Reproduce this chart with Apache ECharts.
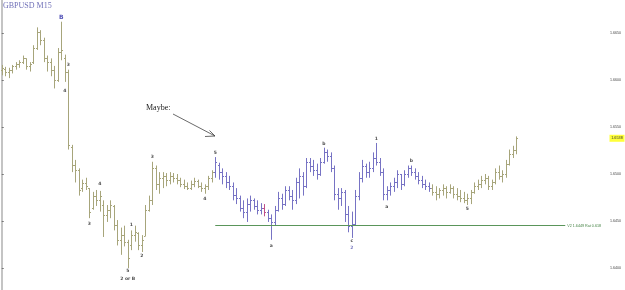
<!DOCTYPE html>
<html>
<head>
<meta charset="utf-8">
<script src="https://cdn.jsdelivr.net/npm/echarts@6/dist/echarts.min.js"></script>
<style>
html,body{margin:0;padding:0;background:#fff;}
#c{width:625px;height:290px;}
</style>
</head>
<body>
<div id="c"></div>
<script>
// ---- DATA (GBPUSD M15 OHLC bars) ----
const opens = [1.6611,1.6612,1.6609,1.6611,1.6615,1.6617,1.6619,1.6623,1.6615,1.6619,1.6634,1.6651,1.6643,1.6623,1.6619,1.6611,1.6600,1.6630,1.6623,1.6609,
1.6529,1.6510,1.6504,1.6485,1.6490,1.6485,1.6464,1.6477,1.6472,1.6467,1.6456,1.6462,1.6466,1.6446,1.6430,1.6435,1.6428,1.6424,1.6435,1.6437,
1.6424,1.6434,1.6462,1.6472,1.6506,1.6489,1.6496,1.6498,1.6494,1.6498,1.6496,1.6494,1.6489,1.6487,1.6485,1.6489,1.6493,1.6487,1.6485,1.6487,
1.6496,1.6502,1.6510,1.6502,1.6498,1.6491,1.6487,1.6478,1.6474,1.6464,1.6460,1.6468,1.6472,1.6466,1.6462,1.6464,1.6460,1.6453,1.6449,1.6462,
1.6474,1.6468,1.6483,1.6477,1.6472,1.6491,1.6498,1.6487,1.6513,1.6509,1.6504,1.6500,1.6513,1.6523,1.6519,1.6506,1.6479,1.6474,1.6481,1.6457,
1.6445,1.6447,1.6477,1.6496,1.6509,1.6502,1.6506,1.6517,1.6513,1.6502,1.6479,1.6483,1.6487,1.6491,1.6500,1.6489,1.6500,1.6506,1.6502,1.6498,
1.6494,1.6489,1.6487,1.6485,1.6481,1.6479,1.6483,1.6485,1.6481,1.6485,1.6479,1.6477,1.6474,1.6472,1.6474,1.6481,1.6487,1.6489,1.6494,1.6496,
1.6487,1.6491,1.6502,1.6498,1.6500,1.6511,1.6521,1.6526];
const highs = [1.6616,1.6614,1.6613,1.6616,1.6619,1.6621,1.6626,1.6623,1.6619,1.6637,1.6656,1.6653,1.6645,1.6626,1.6623,1.6615,1.6634,1.6662,1.6627,1.6611,
1.6531,1.6515,1.6506,1.6494,1.6496,1.6485,1.6481,1.6483,1.6482,1.6472,1.6467,1.6472,1.6467,1.6451,1.6443,1.6445,1.6430,1.6440,1.6445,1.6438,
1.6435,1.6467,1.6477,1.6513,1.6509,1.6502,1.6502,1.6501,1.6502,1.6501,1.6500,1.6496,1.6494,1.6491,1.6493,1.6496,1.6494,1.6491,1.6489,1.6498,
1.6504,1.6518,1.6512,1.6506,1.6502,1.6498,1.6491,1.6485,1.6477,1.6472,1.6474,1.6477,1.6474,1.6472,1.6469,1.6468,1.6462,1.6457,1.6466,1.6481,
1.6479,1.6487,1.6487,1.6483,1.6496,1.6506,1.6502,1.6517,1.6517,1.6515,1.6511,1.6517,1.6528,1.6526,1.6523,1.6509,1.6485,1.6485,1.6483,1.6466,
1.6460,1.6483,1.6502,1.6515,1.6511,1.6513,1.6523,1.6533,1.6517,1.6506,1.6487,1.6491,1.6496,1.6504,1.6500,1.6504,1.6509,1.6509,1.6506,1.6502,
1.6498,1.6494,1.6491,1.6489,1.6487,1.6485,1.6489,1.6487,1.6489,1.6487,1.6485,1.6483,1.6481,1.6479,1.6483,1.6491,1.6494,1.6498,1.6500,1.6498,
1.6494,1.6506,1.6509,1.6504,1.6515,1.6526,1.6530,1.6540];
const lows = [1.6605,1.6604,1.6602,1.6607,1.6611,1.6613,1.6617,1.6611,1.6609,1.6617,1.6632,1.6637,1.6619,1.6609,1.6604,1.6591,1.6598,1.6621,1.6598,1.6526,
1.6502,1.6491,1.6477,1.6481,1.6483,1.6453,1.6462,1.6466,1.6460,1.6433,1.6449,1.6453,1.6440,1.6424,1.6414,1.6423,1.6400,1.6419,1.6428,1.6419,
1.6417,1.6434,1.6460,1.6467,1.6483,1.6479,1.6485,1.6487,1.6489,1.6491,1.6489,1.6486,1.6484,1.6483,1.6483,1.6486,1.6485,1.6481,1.6479,1.6483,
1.6491,1.6496,1.6494,1.6489,1.6485,1.6483,1.6472,1.6468,1.6460,1.6453,1.6449,1.6460,1.6462,1.6457,1.6457,1.6455,1.6449,1.6430,1.6445,1.6460,
1.6462,1.6466,1.6472,1.6462,1.6468,1.6474,1.6477,1.6485,1.6502,1.6498,1.6494,1.6498,1.6511,1.6513,1.6502,1.6472,1.6462,1.6466,1.6449,1.6438,
1.6432,1.6445,1.6472,1.6491,1.6496,1.6496,1.6502,1.6509,1.6498,1.6472,1.6472,1.6477,1.6481,1.6485,1.6483,1.6487,1.6496,1.6498,1.6494,1.6489,
1.6485,1.6483,1.6481,1.6477,1.6472,1.6474,1.6477,1.6474,1.6479,1.6474,1.6472,1.6470,1.6469,1.6467,1.6468,1.6479,1.6483,1.6485,1.6489,1.6483,
1.6483,1.6489,1.6494,1.6491,1.6496,1.6509,1.6517,1.6521];
const closes = [1.6613,1.6609,1.6611,1.6615,1.6617,1.6619,1.6623,1.6615,1.6617,1.6634,1.6651,1.6643,1.6623,1.6619,1.6611,1.6600,1.6630,1.6632,1.6609,1.6531,
1.6510,1.6504,1.6483,1.6490,1.6487,1.6460,1.6477,1.6472,1.6477,1.6456,1.6462,1.6467,1.6446,1.6430,1.6435,1.6428,1.6411,1.6435,1.6438,1.6424,
1.6430,1.6462,1.6472,1.6506,1.6489,1.6496,1.6498,1.6494,1.6498,1.6496,1.6494,1.6489,1.6487,1.6485,1.6489,1.6493,1.6487,1.6485,1.6487,1.6496,
1.6502,1.6513,1.6502,1.6498,1.6491,1.6487,1.6478,1.6474,1.6464,1.6460,1.6468,1.6472,1.6466,1.6462,1.6464,1.6460,1.6453,1.6449,1.6462,1.6474,
1.6468,1.6483,1.6477,1.6472,1.6491,1.6498,1.6487,1.6513,1.6509,1.6504,1.6500,1.6513,1.6523,1.6519,1.6506,1.6479,1.6474,1.6481,1.6457,1.6445,
1.6447,1.6477,1.6496,1.6509,1.6502,1.6506,1.6517,1.6513,1.6502,1.6479,1.6483,1.6487,1.6491,1.6500,1.6489,1.6500,1.6506,1.6502,1.6498,1.6494,
1.6489,1.6487,1.6485,1.6481,1.6479,1.6483,1.6485,1.6481,1.6485,1.6479,1.6477,1.6474,1.6472,1.6474,1.6481,1.6487,1.6489,1.6494,1.6496,1.6487,
1.6491,1.6502,1.6498,1.6500,1.6511,1.6521,1.6526,1.6538];

// bars drawn in the second colour (the "Maybe" correction) and one odd bar
const blueFrom = 61, blueTo = 122, oddBar = 75;

// wave labels
const waveIdx   = [17, 19, 18, 25, 28, 36, 36, 37, 40, 43, 58, 61, 77, 92, 100, 100, 107, 110, 117, 133];
const wavePrice = [1.6667,1.6616,1.6589,1.6447,1.6490,1.6397,1.6389,1.6446,1.6413,1.6518,1.6474,1.6522,1.6424,1.6532,1.6429,1.6421,1.6537,1.6465,1.6514,1.6463];
const waveText  = ['B','3','4','3','4','5','2 or B','1','2','3','4','5','a','b','c','2','1','a','b','5'];

// target level
const levelPrice = 1.6445;
const levelText = 'V2 1.6449 Rat 0.618';
const levelFrom = 61, levelTo = 161;

// price axis: visible range and tick labels
const yMin = 1.63766, yMax = 1.66851;
const yTicks = [1.640, 1.645, 1.650, 1.655, 1.660, 1.665];
const slots = 174;

// ---- CHART ----
const chart = echarts.init(document.getElementById('c'), null, {renderer: 'canvas'});

const ohlc = opens.map((o, i) => [i, o, highs[i], lows[i], closes[i]]);

const OLIVE = '#a7a57b', BLUE = '#7773c4', ODD = '#c0508a';

function barColor(i) {
  if (i === oddBar) return ODD;
  if (i >= blueFrom && i <= blueTo) return BLUE;
  return OLIVE;
}

function renderItem(params, api) {
  const i = api.value(0);
  const o = api.coord([i, api.value(1)]);
  const h = api.coord([i, api.value(2)]);
  const l = api.coord([i, api.value(3)]);
  const c = api.coord([i, api.value(4)]);
  const x = Math.round(h[0]) + 0.5;
  const col = barColor(i);
  const st = {stroke: col, lineWidth: 1};
  return {
    type: 'group',
    children: [
      {type: 'line', shape: {x1: x, y1: h[1], x2: x, y2: l[1]}, style: st},
      {type: 'line', shape: {x1: x - 1.5, y1: Math.round(o[1]) + 0.5, x2: x, y2: Math.round(o[1]) + 0.5}, style: st},
      {type: 'line', shape: {x1: x, y1: Math.round(c[1]) + 0.5, x2: x + 1.5, y2: Math.round(c[1]) + 0.5}, style: st}
    ]
  };
}

const waveData = waveIdx.map((x, k) => {
  const item = {value: [x, wavePrice[k], waveText[k]]};
  if (waveText[k] === 'B') item.label = {color: '#2a2aa6', fontSize: 6};
  if (waveText[k] === '2' && x === 100) item.label = {color: '#5a5ab0'};
  return item;
});

const lastClose = closes[closes.length - 1];

const option = {
  animation: false,
  backgroundColor: '#ffffff',
  grid: {left: 0, right: 16, top: 0, bottom: 0, containLabel: false},
  xAxis: {
    type: 'value', min: -0.5, max: slots - 0.5,
    show: false
  },
  yAxis: {
    type: 'value', position: 'right',
    min: yMin, max: yMax,
    axisLine: {show: true, lineStyle: {color: '#c4c4c4', width: 2}},
    axisTick: {show: true, length: 2, customValues: yTicks, lineStyle: {color: '#777', width: 1}},
    axisLabel: {
      show: true, margin: 1, fontSize: 3.6, color: '#444',
      fontFamily: 'Liberation Sans',
      customValues: yTicks,
      formatter: v => v.toFixed(4)
    },
    splitLine: {show: false}
  },
  series: [
    {
      type: 'custom',
      renderItem: renderItem,
      data: ohlc,
      encode: {x: 0, y: [1, 2, 3, 4]},
      clip: false,
      z: 2
    },
    {
      type: 'scatter',
      data: waveData,
      symbolSize: 1,
      silent: true,
      z: 3,
      itemStyle: {color: 'rgba(0,0,0,0)'},
      label: {
        show: true, position: 'inside',
        formatter: p => p.value[2],
        fontSize: 4.5, fontWeight: 'bold', color: '#222',
        fontFamily: 'DejaVu Sans'
      },
      labelLayout: {hideOverlap: false},
      markLine: {
        silent: true,
        symbol: ['none', 'none'],
        animation: false,
        data: [
          [
            {coord: [levelFrom, levelPrice], lineStyle: {color: '#5a955a', width: 1, type: 'solid'},
             label: {show: true, position: 'end', formatter: levelText, color: '#3f7f3f', fontSize: 3.7, distance: 2, fontFamily: 'Liberation Sans'}},
            {coord: [levelTo, levelPrice]}
          ]
        ]
      },
      markPoint: {
        silent: true,
        animation: false,
        data: [{
          coord: [slots - 0.5, lastClose],
          symbol: 'rect',
          symbolSize: [15, 7],
          symbolOffset: [8, 0],
          itemStyle: {color: '#ffff3a'},
          label: {show: true, position: 'inside', formatter: lastClose.toFixed(4),
                  color: '#333', fontSize: 3.8, fontFamily: 'Liberation Sans'}
        }]
      }
    }
  ],
  graphic: [
    {type: 'text', left: 3, top: 2, style: {text: 'GBPUSD M15', font: '8px "Liberation Serif"', fill: '#7070b8'}},
    {type: 'text', left: 146, top: 104, style: {text: 'Maybe:', font: '8px "Liberation Serif"', fill: '#222'}},
    {type: 'polyline', shape: {points: [[173, 114], [215, 136]]}, style: {stroke: '#444', lineWidth: 0.8, fill: null}},
    {type: 'polyline', shape: {points: [[209.5, 130.5], [215, 136], [205, 136.5]]}, style: {stroke: '#444', lineWidth: 0.8, fill: null}}
  ]
};

chart.setOption(option);
</script>
</body>
</html>
